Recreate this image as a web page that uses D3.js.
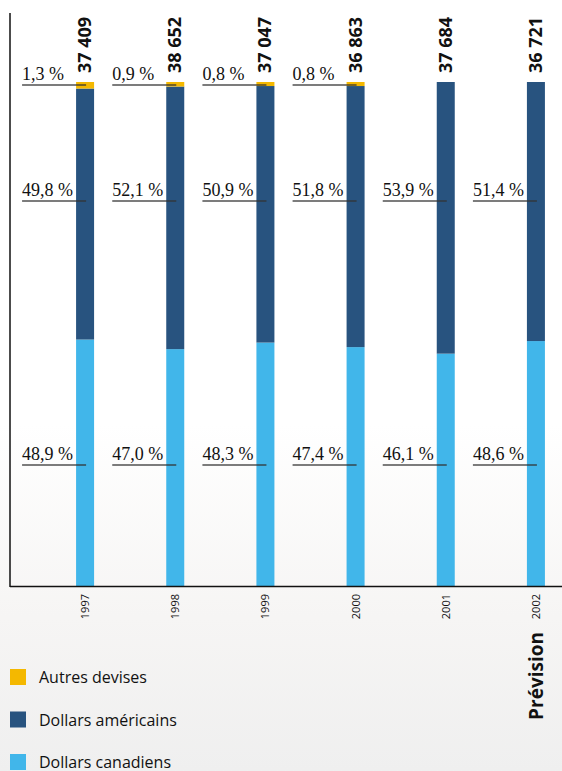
<!DOCTYPE html>
<html><head><meta charset="utf-8">
<script src="https://cdn.jsdelivr.net/npm/d3@7"></script>
<style>html,body{margin:0;padding:0;background:#fff;}svg{display:block;}</style>
</head><body>
<script>
const years = ["1997","1998","1999","2000","2001","2002"];
const canadiens = [48.9, 47.0, 48.3, 47.4, 46.1, 48.6];
const americains = [49.8, 52.1, 50.9, 51.8, 53.9, 51.4];
const autres = [1.3, 0.9, 0.8, 0.8, 0, 0];
const totals = ["37 409", "38 652", "37 047", "36 863", "37 684", "36 721"];
const seriesNames = ["Autres devises", "Dollars américains", "Dollars canadiens"];
const colors = ["#f4b800", "#28537f", "#41b6ea"];

const W = 562, H = 771;
const svg = d3.select("body").append("svg").attr("width", W).attr("height", H);
const defs = svg.append("defs");
const grad = defs.append("linearGradient").attr("id","bg").attr("x1",0).attr("y1",0).attr("x2",0).attr("y2",1);
grad.append("stop").attr("offset","0%").attr("stop-color","#ffffff");
grad.append("stop").attr("offset","55%").attr("stop-color","#ffffff");
grad.append("stop").attr("offset","80%").attr("stop-color","#f6f5f4");
grad.append("stop").attr("offset","100%").attr("stop-color","#efefef");
svg.append("rect").attr("width",W).attr("height",H).attr("fill","url(#bg)");

const x = d3.scaleBand().domain(years).range([40, 581]).paddingInner(0.8).paddingOuter(0.4);
const y = d3.scaleLinear().domain([0, 100]).range([586, 82]);

const data = years.map((yr, i) => ({year: yr, canadiens: canadiens[i], americains: americains[i], autres: autres[i]}));
const stack = d3.stack().keys(["canadiens", "americains", "autres"]);
const layers = stack(data);
const colorOf = {canadiens: colors[2], americains: colors[1], autres: colors[0]};

const bw = 18;
layers.forEach(layer => {
  svg.append("g").selectAll("rect").data(layer).join("rect")
    .attr("x", d => x(d.data.year) + x.bandwidth()/2 - bw/2)
    .attr("width", bw)
    .attr("y", d => y(d[1]))
    .attr("height", d => Math.max(0, y(d[0]) - y(d[1])))
    .attr("fill", colorOf[layer.key]);
});

// axes
svg.append("line").attr("x1",10).attr("x2",10).attr("y1",13).attr("y2",587).attr("stroke","#111").attr("stroke-width",1.5);
svg.append("line").attr("x1",10).attr("x2",W).attr("y1",586.5).attr("y2",586.5).attr("stroke","#111").attr("stroke-width",1.5);

const cx = yr => x(yr) + x.bandwidth()/2;

// percentage labels
const fmt = v => d3.format(".1f")(v).replace(".", ",") + " %";
const labelRows = [
  {vals: autres, ly: 85},
  {vals: americains, ly: 201},
  {vals: canadiens, ly: 465}
];
labelRows.forEach(row => {
  years.forEach((yr, i) => {
    const v = row.vals[i];
    if (!v) return;
    const c = cx(yr);
    svg.append("line").attr("x1", c - 63).attr("x2", c + 1).attr("y1", row.ly).attr("y2", row.ly)
      .attr("stroke", "#333").attr("stroke-width", 1.3).attr("opacity", 0.85);
    svg.append("text").attr("x", c - 63).attr("y", row.ly - 5)
      .attr("font-family", "'Liberation Serif', serif").attr("font-size", 18).attr("fill", "#111")
      .text(fmt(v));
  });
});

// totals
years.forEach((yr, i) => {
  const c = cx(yr);
  svg.append("text").attr("transform", `translate(${c + 6},73) rotate(-90)`)
    .attr("font-family", "'Open Sans', sans-serif").attr("font-weight", 700).attr("font-size", 18)
    .attr("fill", "#111").attr("text-anchor", "start").text(totals[i]);
});

// year labels
years.forEach(yr => {
  const c = cx(yr);
  svg.append("text").attr("transform", `translate(${c + 4},594) rotate(-90)`)
    .attr("font-family", "'Open Sans', sans-serif").attr("font-size", 11)
    .attr("fill", "#111").attr("text-anchor", "end").text(yr);
});

svg.append("text").attr("transform", `translate(543,632) rotate(-90)`)
  .attr("font-family", "'Open Sans', sans-serif").attr("font-weight", 700).attr("font-size", 19)
  .attr("fill", "#111").attr("text-anchor", "end").text("Prévision");

// legend
seriesNames.forEach((name, i) => {
  const ly = 669 + i * 42.5;
  svg.append("rect").attr("x", 10).attr("y", ly).attr("width", 16).attr("height", 16).attr("fill", colors[i]);
  svg.append("text").attr("x", 39).attr("y", ly + 14).attr("font-family", "'Open Sans', sans-serif")
    .attr("font-size", 16).attr("fill", "#111").text(name);
});
</script>
</body></html>
